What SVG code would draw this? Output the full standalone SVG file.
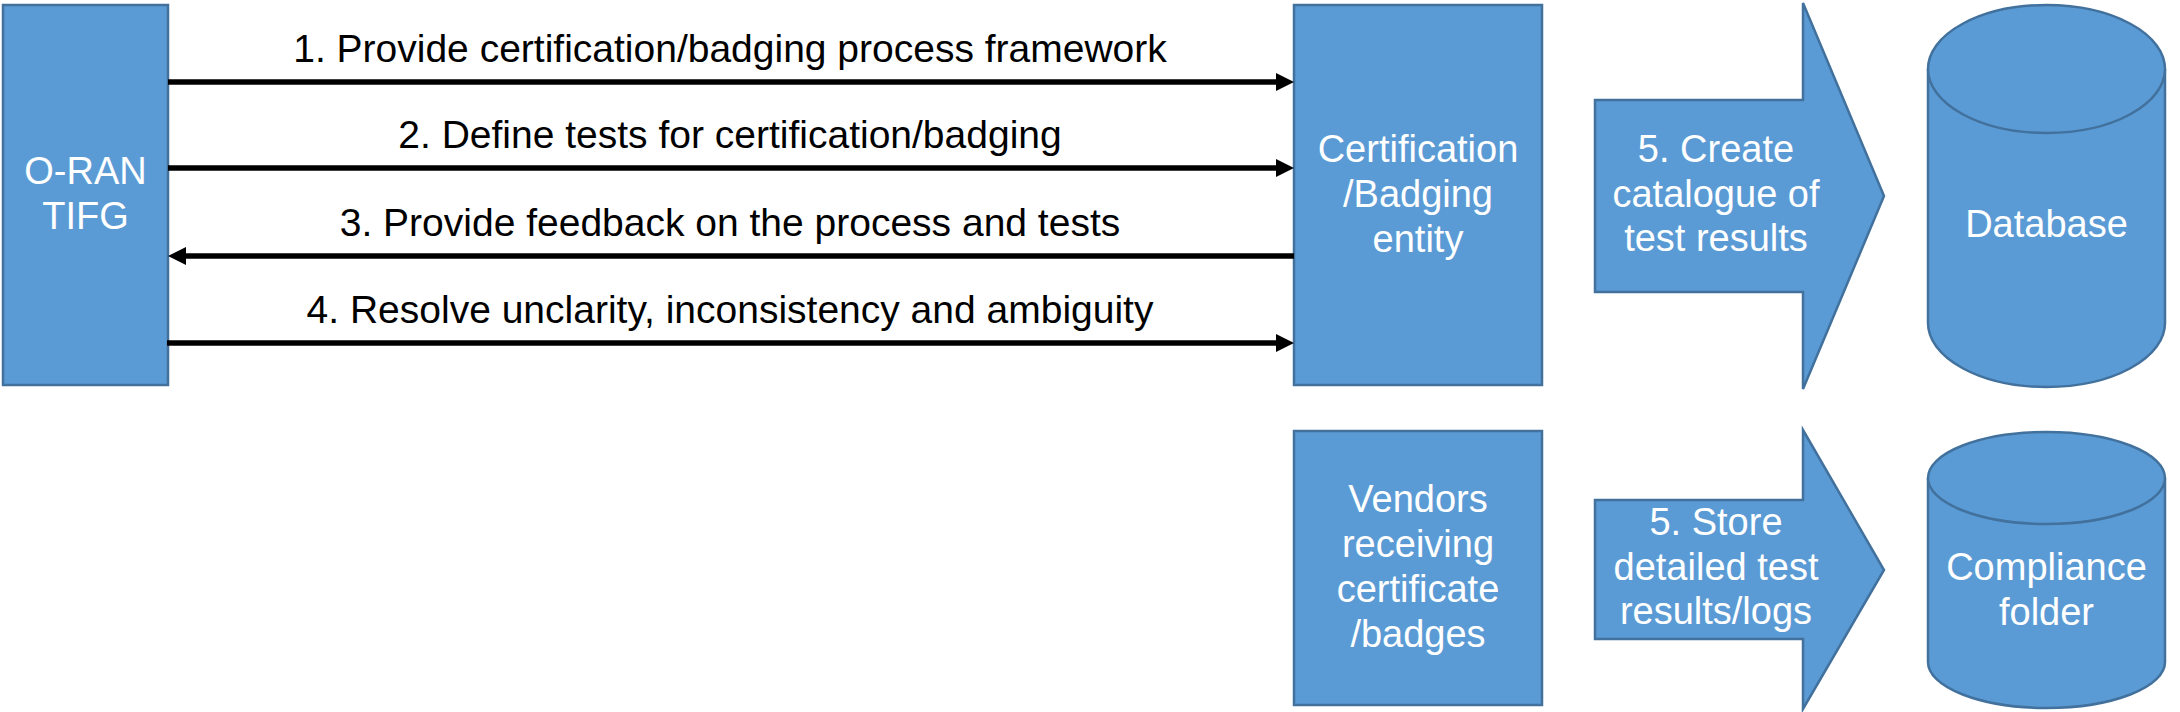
<svg xmlns="http://www.w3.org/2000/svg" width="2180" height="712" viewBox="0 0 2180 712">
<style>
.box{fill:#5B9BD5;stroke:#41719C;stroke-width:2.5}
.wt{fill:#FFFFFF;font-family:"Liberation Sans",Arial,sans-serif;font-size:38px;text-anchor:middle}
.lbl{fill:#000000;font-family:"Liberation Sans",Arial,sans-serif;font-size:39px;text-anchor:middle}
.conn{stroke:#000000;stroke-width:5.5;fill:none}
</style>
<defs>
<marker id="ah" markerUnits="userSpaceOnUse" markerWidth="18" markerHeight="18" refX="0" refY="9" orient="auto" overflow="visible">
<path d="M0,0 L18,9 L0,18 Z" fill="#000000"/>
</marker>
</defs>
<rect width="2180" height="712" fill="#FFFFFF"/>
<g id="tifg">
<rect class="box" x="3" y="5" width="165" height="380"/>
<text class="wt" x="85.5" y="184">O-RAN</text>
<text class="wt" x="85.5" y="229">TIFG</text>
</g>
<g id="cert">
<rect class="box" x="1294" y="5" width="248" height="380"/>
<text class="wt" x="1418" y="162">Certification</text>
<text class="wt" x="1418" y="207">/Badging</text>
<text class="wt" x="1418" y="252">entity</text>
</g>
<g id="vendors">
<rect class="box" x="1294" y="431" width="248" height="274"/>
<text class="wt" x="1418" y="512">Vendors</text>
<text class="wt" x="1418" y="557">receiving</text>
<text class="wt" x="1418" y="602">certificate</text>
<text class="wt" x="1418" y="647">/badges</text>
</g>
<g id="create">
<polygon class="box" points="1595,100 1803,100 1803,3 1884,196 1803,389 1803,292 1595,292"/>
<text class="wt" x="1716" y="162">5. Create</text>
<text class="wt" x="1716" y="207">catalogue of</text>
<text class="wt" x="1716" y="251">test results</text>
</g>
<g id="store">
<polygon class="box" points="1595,500 1803,500 1803,430 1884,570 1803,709 1803,639 1595,639"/>
<text class="wt" x="1716" y="535">5. Store</text>
<text class="wt" x="1716" y="580">detailed test</text>
<text class="wt" x="1716" y="624">results/logs</text>
</g>
<g id="database">
<path class="box" d="M1928,69 A118.5,64 0 0 1 2165,69 V323 A118.5,64 0 0 1 1928,323 Z"/>
<path class="box" d="M1928,69 A118.5,64 0 0 0 2165,69" fill="none"/>
<text class="wt" x="2046.5" y="237">Database</text>
</g>
<g id="compliance">
<path class="box" d="M1928,478 A118.5,46 0 0 1 2165,478 V662 A118.5,46 0 0 1 1928,662 Z"/>
<path class="box" d="M1928,478 A118.5,46 0 0 0 2165,478" fill="none"/>
<text class="wt" x="2046.5" y="580">Compliance</text>
<text class="wt" x="2046.5" y="625">folder</text>
</g>
<g id="connectors">
<line class="conn" x1="168" y1="82" x2="1276" y2="82" marker-end="url(#ah)"/>
<line class="conn" x1="168" y1="168" x2="1276" y2="168" marker-end="url(#ah)"/>
<line class="conn" x1="1294" y1="256" x2="186" y2="256" marker-end="url(#ah)"/>
<line class="conn" x1="167" y1="343" x2="1276" y2="343" marker-end="url(#ah)"/>
<text class="lbl" x="730" y="62">1. Provide certification/badging process framework</text>
<text class="lbl" x="730" y="148">2. Define tests for certification/badging</text>
<text class="lbl" x="730" y="236">3. Provide feedback on the process and tests</text>
<text class="lbl" x="730" y="323">4. Resolve unclarity, inconsistency and ambiguity</text>
</g>
</svg>
